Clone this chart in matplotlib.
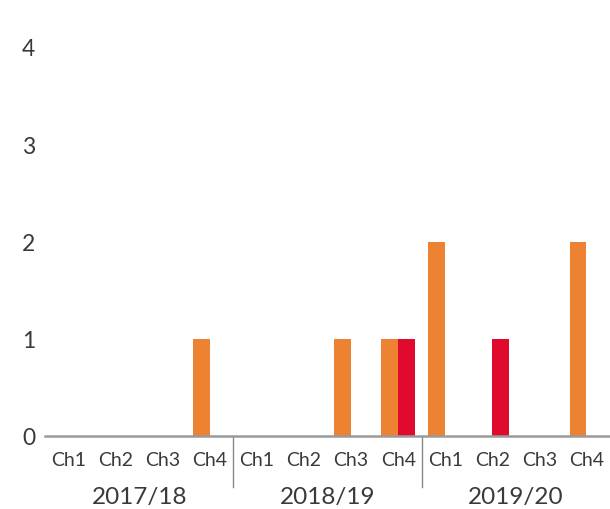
import matplotlib
matplotlib.use('Agg')
import matplotlib.pyplot as plt
import matplotlib.transforms as mtransforms
import numpy as np

# Data
years = ['2017/18', '2018/19', '2019/20']
channels = ['Ch1', 'Ch2', 'Ch3', 'Ch4']
orange_vals = [0, 0, 0, 1,   0, 0, 1, 1,   2, 0, 0, 2]
red_vals    = [0, 0, 0, 0,   0, 0, 0, 1,   0, 1, 0, 0]
y_ticks = [0, 1, 2, 3, 4]

orange = '#EE8233'
red = '#DF0A2E'
text_col = '#3a3a3a'

plt.rcParams['font.family'] = ['Lato', 'DejaVu Sans']

fig = plt.figure(figsize=(6.1, 5.1), dpi=100)
ax = fig.add_axes([45 / 610, 73 / 510, 565 / 610, 4.2 * 97.25 / 510])

x = np.arange(len(orange_vals))
w = 0.36
ax.bar(x - w / 2, orange_vals, width=w, color=orange, zorder=2)
ax.bar(x + w / 2, red_vals, width=w, color=red, zorder=2)

ax.set_xlim(-0.5, 11.5)
ax.set_ylim(0, 4.2)

# y axis
ax.set_yticks(y_ticks)
ax.tick_params(axis='y', length=0, pad=7, labelsize=16.5, labelcolor=text_col)

# x axis: channel labels
ax.set_xticks(x)
ax.set_xticklabels(channels * len(years))
ax.tick_params(axis='x', length=0, pad=11, labelsize=14, labelcolor=text_col)

for s in ['top', 'right', 'left']:
    ax.spines[s].set_visible(False)
ax.spines['bottom'].set_color('#9a9a9a')
ax.spines['bottom'].set_linewidth(1.8)
ax.spines['bottom'].set_zorder(3)

# year labels and separators
trans = mtransforms.blended_transform_factory(ax.transData, ax.transAxes)
for i, yr in enumerate(years):
    ax.text(i * 4 + 1.5, -0.148, yr, transform=trans, ha='center', va='center',
            fontsize=17.5, color=text_col)
for i in range(1, len(years)):
    ax.plot([i * 4 - 0.5, i * 4 - 0.5], [0, -0.125], transform=trans,
            color='#8a8a8a', linewidth=1, clip_on=False)

fig.savefig('out.png', dpi=100)
